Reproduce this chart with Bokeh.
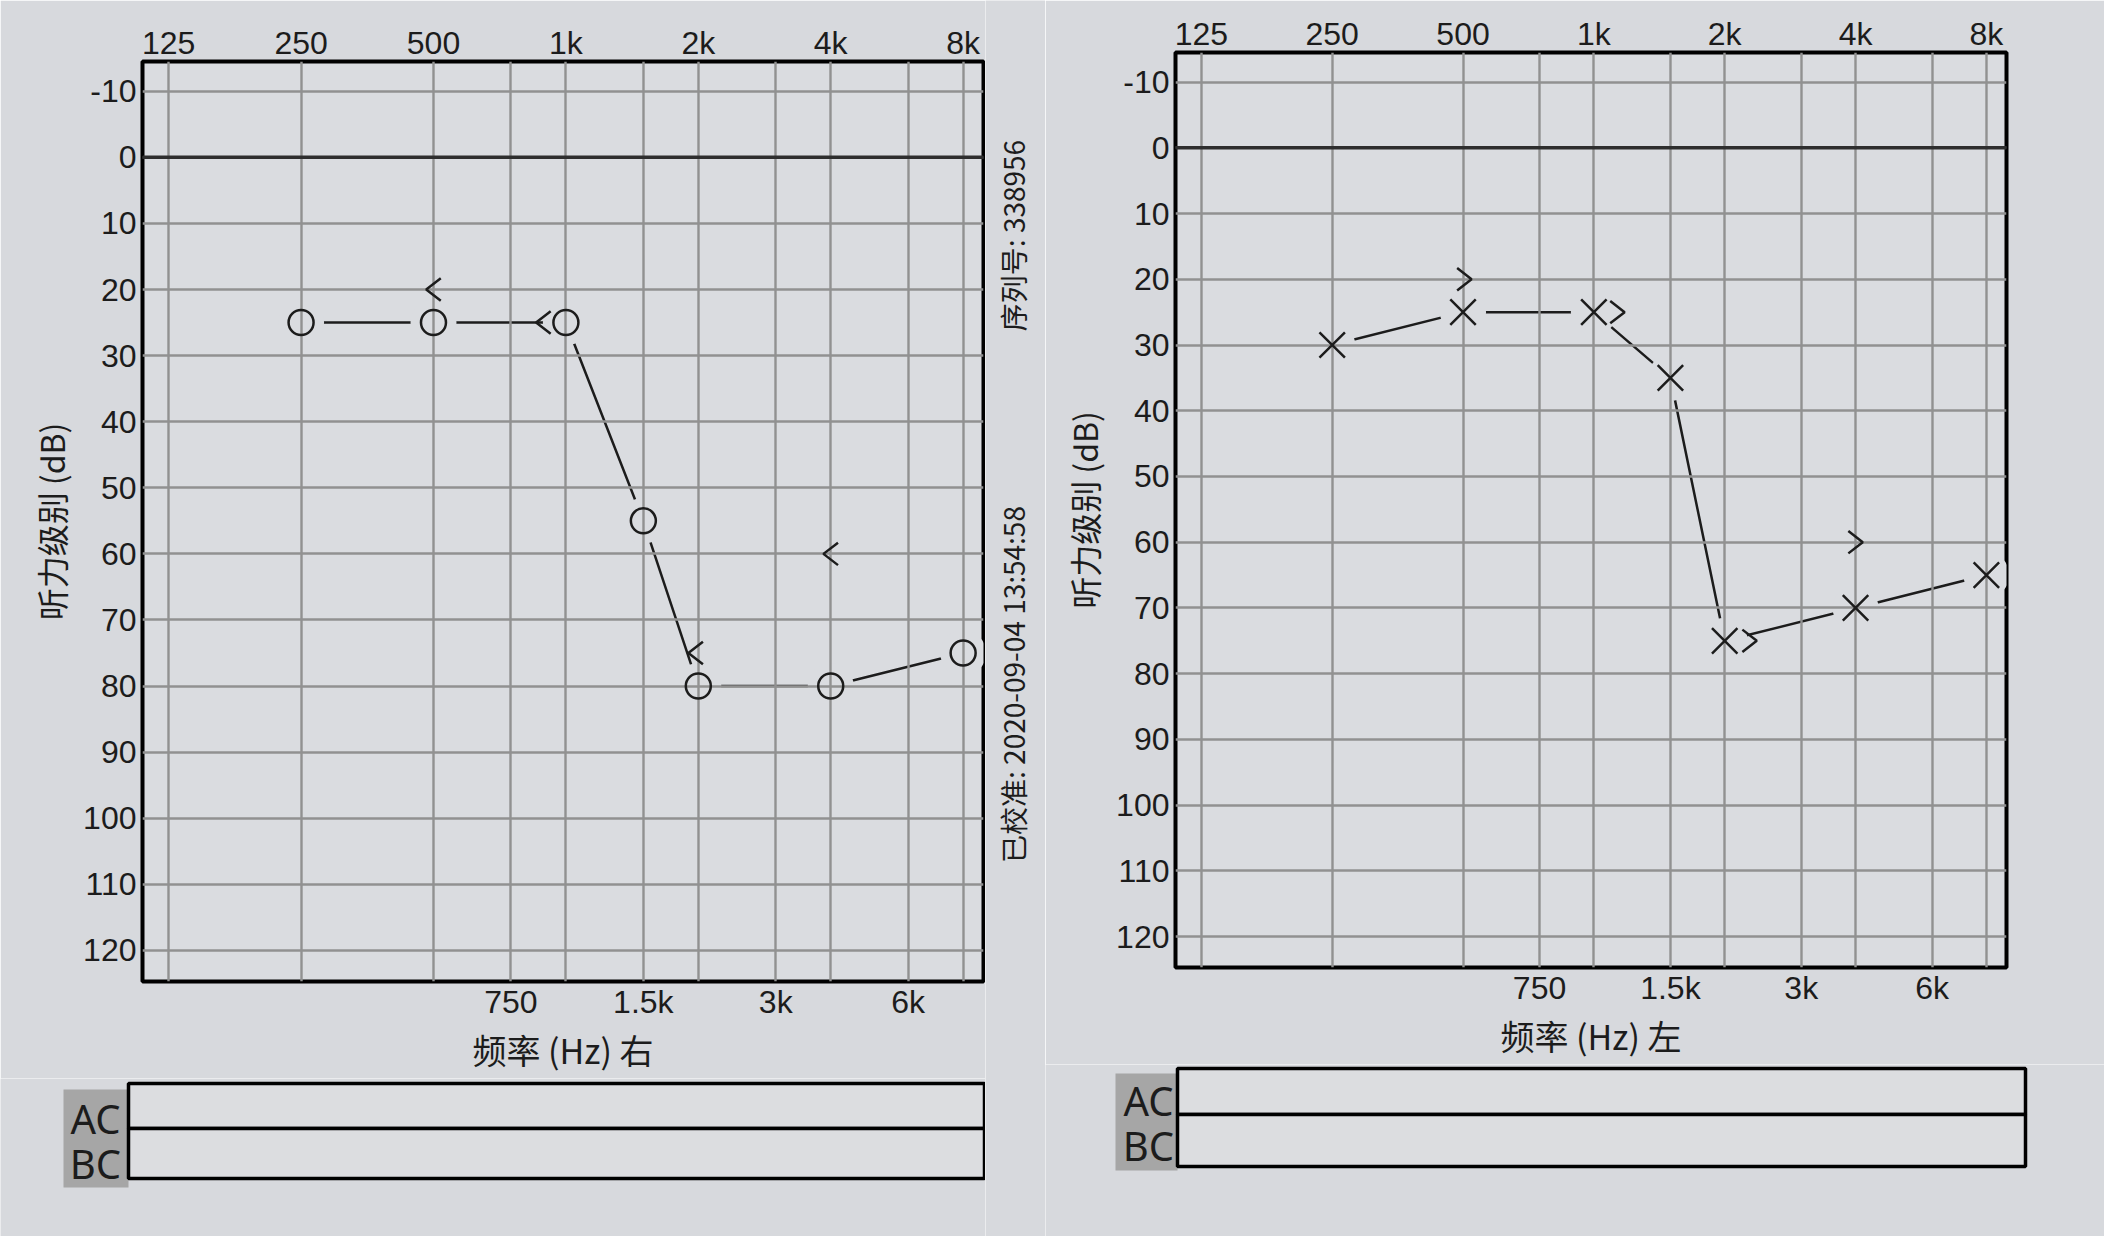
import numpy as np
from bokeh.plotting import figure
from bokeh.models import Range1d, LogAxis, FixedTicker, CustomJSTickFormatter, Span, ColumnDataSource
from bokeh.layouts import row, column
from bokeh.core.properties import value
from bokeh.embed import file_html
from bokeh.resources import INLINE

# ---------------- data ----------------
freq_ac = [250, 500, 1000, 1500, 2000, 4000, 8000]
right_ear_ac_db = [25, 25, 25, 55, 80, 80, 75]
left_ear_ac_db = [30, 25, 25, 35, 75, 70, 65]
freq_bc = [500, 1000, 2000, 4000]
right_ear_bc_db = [20, 25, 75, 60]
left_ear_bc_db = [20, 25, 75, 60]
top_ticks = [125, 250, 500, 1000, 2000, 4000, 8000]
bottom_ticks = [750, 1500, 3000, 6000]
db_ticks = list(range(-10, 121, 10))
y_label = "听力级别 (dB)"
right_x_label = "频率 (Hz) 右"
left_x_label = "频率 (Hz) 左"
serial_text = "序列号: 338956"
calib_text = "已校准: 2020-09-04 13:54:58"
row_labels = ["AC", "BC"]

# ---------------- style ----------------
PAPER = "#d7d9dd"
INNER = "#dadce0"
INK = "#1c1c1c"
GRID = "#919191"
SANS = "Liberation Sans"
CJK = "Noto Sans CJK SC"
XMIN, XMAX = 109, 8900
YMIN, YMAX = -14.5, 124.7
# bone-conduction bracket: horizontal shift (octaves), half-width (octaves), half-height (dB)
right_bc_shift = [0.0, -0.17, -0.02, 0.0]
left_bc_shift = [0.01, 0.18, 0.19, 0.0]
BR_W = 0.055
BR_H = 1.7

khz = CustomJSTickFormatter(code="return tick >= 1000 ? (tick/1000) + 'k' : String(tick);")
plain = CustomJSTickFormatter(code="return String(tick);")


def brackets(freqs, dbs, shifts, pointing_left):
    xs, ys = [], []
    for f, d, s in zip(freqs, dbs, shifts):
        tip = f * 2 ** (s - BR_W if pointing_left else s + BR_W)
        end = f * 2 ** (s + BR_W if pointing_left else s - BR_W)
        xs.append([end, tip, end])
        ys.append([d - BR_H, d, d + BR_H])
    return xs, ys


def chart(width, height, borders, ac_db, bc_db, bc_shift, marker, pointing_left, xlabel):
    p = figure(width=width, height=height, x_axis_type="log", x_axis_location="above",
               x_range=Range1d(XMIN, XMAX), y_range=Range1d(YMAX, YMIN),
               toolbar_location=None, output_backend="svg", frame_align=False,
               min_border_left=borders[0], min_border_right=borders[1],
               min_border_top=borders[2], min_border_bottom=borders[3])
    p.background_fill_color = INNER
    p.border_fill_color = PAPER
    p.outline_line_color = "black"
    p.outline_line_width = 4

    p.xaxis.ticker = FixedTicker(ticks=top_ticks)
    p.xaxis.formatter = khz
    p.yaxis.ticker = FixedTicker(ticks=db_ticks)
    p.yaxis.formatter = plain
    p.yaxis.axis_label = y_label
    p.yaxis.axis_label_text_font = CJK
    p.yaxis.axis_label_text_font_size = "32px"
    p.yaxis.axis_label_text_font_style = "normal"
    p.yaxis.axis_label_text_color = INK
    p.yaxis.axis_label_standoff = 6

    bottom = LogAxis(ticker=FixedTicker(ticks=bottom_ticks), formatter=khz,
                     axis_label=xlabel)
    bottom.axis_label_text_font = CJK
    bottom.axis_label_text_font_size = "34px"
    bottom.axis_label_text_font_style = "normal"
    bottom.axis_label_text_color = INK
    bottom.axis_label_standoff = 2
    p.add_layout(bottom, "below")

    for ax in [p.xaxis[0], p.yaxis[0], bottom]:
        ax.axis_line_color = None
        ax.major_tick_line_color = None
        ax.minor_tick_line_color = None
        ax.major_tick_in = 0
        ax.major_tick_out = 0
        ax.minor_tick_out = 0
        ax.major_label_standoff = 6
        ax.major_label_text_font = SANS
        ax.major_label_text_font_size = "32px"
        ax.major_label_text_color = INK
    p.xaxis[0].major_label_standoff = 1
    bottom.major_label_standoff = 2

    p.xgrid.ticker = FixedTicker(ticks=top_ticks + bottom_ticks)
    p.ygrid.ticker = FixedTicker(ticks=db_ticks)
    p.grid.grid_line_color = GRID
    p.grid.grid_line_width = 2.4
    p.grid.grid_line_alpha = 1.0
    p.add_layout(Span(location=0, dimension="width", line_color="#2e2e2e",
                      line_width=3.5, level="underlay"))

    ac = ColumnDataSource(dict(f=freq_ac, db=ac_db))
    p.line("f", "db", source=ac, line_color=INK, line_width=2.5, level="image")
    p.scatter("f", "db", source=ac, marker="circle", size=46, fill_color=INNER,
              line_color=None, level="image")
    if marker == "circle":
        p.scatter("f", "db", source=ac, marker="circle", size=25, fill_color=None,
                  line_color=INK, line_width=2.5)
    else:
        p.scatter("f", "db", source=ac, marker="x", size=36, line_color=INK,
                  line_width=2.5)

    bxs, bys = brackets(freq_bc, bc_db, bc_shift, pointing_left)
    p.multi_line(bxs, bys, line_color=INK, line_width=2.5)
    return p


def blank(width, height, x0, x1, y0, y1):
    p = figure(width=width, height=height, x_range=Range1d(x0, x1), y_range=Range1d(y1, y0),
               toolbar_location=None, output_backend="svg", frame_align=False,
               x_axis_location=None, y_axis_location=None, min_border=0,
               min_border_left=0, min_border_right=0, min_border_top=0, min_border_bottom=0)
    p.grid.visible = False
    p.outline_line_color = None
    p.background_fill_color = PAPER
    p.border_fill_color = PAPER
    return p


def table(width, height, x0, x1, y0, y1, gray, box, mid, txt_x, txt_y):
    p = blank(width, height, x0, x1, y0, y1)
    p.quad(left=[gray[0]], right=[gray[1]], top=[gray[2]], bottom=[gray[3]],
           fill_color="#a6a6a6", line_color=None)
    p.quad(left=[box[0], box[0]], right=[box[1], box[1]], top=[box[2], mid],
           bottom=[mid, box[3]], fill_color="#dcdde0", line_color="black", line_width=3.5)
    p.text(x=[txt_x, txt_x], y=txt_y, text=row_labels, text_align="center",
           text_baseline="middle", text_font=value("Noto Sans"), text_font_size="40px",
           text_color=INK)
    return p


# page coordinates (origin at top-left of the page)
right_chart = chart(985, 1078, (142, 2, 61, 97), right_ear_ac_db, right_ear_bc_db,
                    right_bc_shift, "circle", True, right_x_label)
left_chart = chart(1059, 1064, (130, 98, 52, 97), left_ear_ac_db, left_ear_bc_db,
                   left_bc_shift, "x", False, left_x_label)

right_table = table(985, 158, 0, 985, 1078, 1236, (63, 128, 1089, 1187),
                    (128, 984, 1083, 1178), 1128, 95, [1118, 1163])
left_table = table(1059, 172, 1045, 2104, 1064, 1236, (1115, 1177, 1073, 1170),
                   (1177, 2025, 1068, 1166), 1114, 1148, [1100, 1145])

strip = blank(60, 1236, 985, 1045, 0, 1236)
strip.text(x=[1012, 1012], y=[235, 684], text=[serial_text, calib_text], angle=np.pi / 2,
           text_align="center", text_baseline="middle", text_font=value(CJK),
           text_font_size="28px", text_color=INK)

layout = row(column(right_chart, right_table), strip, column(left_chart, left_table))

html = file_html(layout, INLINE)
html = html.replace("<body>", '<body style="background-color: %s;">' % PAPER, 1)
open("out.html", "w").write(html)
